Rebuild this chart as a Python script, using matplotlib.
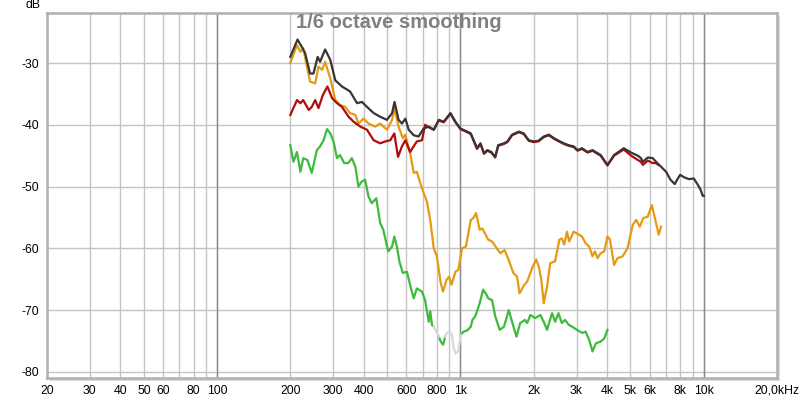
import numpy as np
import matplotlib
matplotlib.use("Agg")
import matplotlib.pyplot as plt
from matplotlib.patches import Rectangle

# ---------------- data ----------------
black_f = [200, 214, 223, 230, 241, 249, 259, 265, 278, 292, 306, 326, 352, 376, 394, 413, 440, 468, 499, 524,
           536, 557, 575, 594, 613, 643, 673, 706, 741, 777, 815, 854, 910, 954, 1000, 1066, 1103, 1170, 1209, 1250,
           1290, 1340, 1390, 1430, 1510, 1560, 1630, 1740, 1820, 1910, 2000, 2090, 2200, 2310, 2430, 2540, 2660, 2780,
           2920, 3030, 3160, 3330, 3490, 3660, 3770, 4020, 4280, 4690, 5030, 5360, 5520, 5620, 5890, 6170, 6370, 6680,
           7000, 7300, 7600, 7800, 8000, 8300, 8700, 9100, 9450, 9700, 9900, 10000]
black_db = [-29, -26.2, -27.4, -28.4, -31.7, -31.7, -29, -29.8, -27.8, -29.5, -32.8, -33.8, -34.6, -36.5, -36.3,
            -37.1, -38.1, -38.7, -39.2, -38.1, -36.3, -39.2, -39.8, -39, -40.8, -41.7, -41.9, -40.6, -40.3, -40.8,
            -39.2, -39.5, -38.1, -39.5, -40.6, -41.1, -41.4, -43.8, -43, -44.6, -44.1, -44.4, -45.2, -43.3, -43,
            -42.7, -41.6, -41.1, -41.4, -42.5, -42.7, -42.6, -41.9, -41.6, -42.2, -42.6, -43, -43.3, -43.5, -44.1,
            -43.8, -44.4, -44.1, -44.6, -44.9, -46.5, -44.9, -43.8, -44.5, -45, -45.4, -46, -45.3, -45.4, -46, -46.8,
            -47.6, -48.9, -49.6, -48.8, -48.1, -48.5, -48.8, -48.7, -49.7, -50.5, -51.5, -51.5]

red_f = [200, 213, 220, 226, 238, 245, 253, 261, 272, 284, 297, 311, 326, 347, 364, 388, 413, 440, 468, 491,
         515, 535, 554, 575, 594, 621, 662, 695, 716,
         741, 777, 815, 854, 910, 954, 1000, 1066, 1103, 1170, 1209, 1250, 1290, 1340, 1390, 1430, 1510, 1560,
         1630, 1740, 1820, 1910, 2000, 2090, 2200, 2310, 2430, 2540, 2660, 2780, 2920, 3030, 3160, 3330, 3490,
         3660, 3770, 4020, 4280, 4690, 5030, 5360, 5520, 5620, 5890, 6170, 6370, 6500]
red_db = [-38.4, -36, -36.5, -36, -37.6, -37.1, -36, -37.3, -35.2, -33.8, -35.7, -36.5, -37.1, -38.7, -39.5,
          -40.3, -40.8, -42.5, -43, -42.7, -42.5, -41.4, -45.2, -43.5, -42.5, -44.4, -42.7, -42.5, -40,
          -40.4, -40.8, -39.3, -39.6, -38.2, -39.6, -40.7, -41.2, -41.5, -43.9, -43.1, -44.7, -44.2, -44.5, -45.3,
          -43.4, -43.1, -42.8, -41.7, -41.2, -41.5, -42.6, -42.8, -42.7, -42, -41.7, -42.3, -42.7, -43.1, -43.4,
          -43.6, -44.2, -43.9, -44.5, -44.2, -44.7, -45, -46.6, -45, -44, -45, -45.7, -46, -46.5, -45.8, -46.2,
          -46.2, -46.5]

orange_f = [200, 213, 220, 226, 234, 241, 253, 261, 270, 278, 292, 306, 320, 336, 352, 370, 381, 400, 419, 446,
            468, 499, 524, 535, 557, 580, 594, 606, 621, 643, 662, 695, 729, 752, 777, 800, 830, 848, 877, 899,
            919, 954, 980, 1016, 1054, 1103, 1130, 1160, 1200, 1230, 1270, 1300, 1350, 1410, 1460, 1520, 1580,
            1650, 1710, 1750, 1830, 1880, 1980, 2050, 2100, 2150, 2200, 2270, 2340, 2450, 2550, 2610, 2670, 2740,
            2800, 2920, 3010, 3160, 3270, 3380, 3490, 3570, 3660, 3770, 3900, 4020, 4120, 4280, 4420, 4640, 4860,
            5110, 5280, 5460, 5640, 5880, 6120, 6320, 6530, 6680]
orange_db = [-30, -27.1, -28.2, -27.6, -30.6, -33, -33.3, -30.6, -31.1, -29.8, -32.5, -36, -36.8, -37.1, -38.1,
             -38.4, -39.8, -39, -39.8, -40.3, -39.8, -40.8, -39.2, -37.3, -40.3, -42.2, -41.6, -43, -44.5, -47.8,
             -47.6, -50.3, -52.5, -55.5, -60, -61.3, -65.6, -67, -65.1, -64.6, -65.9, -63.8, -63.5, -60, -59.7,
             -55.4, -55.1, -54.3, -57, -56.8, -57.8, -58.6, -58.9, -60, -60.8, -60.3, -61.9, -64, -64.6, -67.3,
             -65.9, -65.4, -63, -61.8, -63, -65.1, -68.9, -66.2, -62.4, -62.1, -58.6, -58.4, -59.4, -57.3, -58.9,
             -57.3, -57.6, -58.1, -59.2, -59.7, -61.3, -60.5, -61.6, -60.8, -60.5, -58.1, -58.6, -62.7, -61.6,
             -61.3, -60, -56.2, -55.4, -56.5, -55.1, -54.9, -53, -55.4, -57.8, -56.5]

green_f = [200, 206, 213, 220, 226, 235, 245, 257, 265, 274, 283, 292, 301, 311, 320, 333, 346, 358, 370, 381,
           393, 406, 419, 432, 451, 468, 482, 505, 524, 535, 548, 562, 580, 603, 621, 643, 662, 695, 716, 741,
           752, 764, 776, 802, 815, 830, 848, 860, 865, 880, 901, 923, 935, 954, 978, 991, 1004, 1030, 1066, 1103,
           1120, 1150, 1170, 1200, 1240, 1280, 1300, 1350, 1390, 1450, 1510, 1580, 1630, 1700, 1760, 1840, 1880,
           1940, 2030, 2130, 2200, 2270, 2380, 2450, 2530, 2610, 2690, 2790, 2880, 3010, 3160, 3270, 3380, 3490,
           3600, 3770, 3900, 4020]
green_db = [-43.3, -46, -44.4, -47.6, -45.4, -45.7, -47.8, -44.1, -43.5, -42.5, -40.7, -41.4, -42.7, -45.4, -44.9,
            -46.2, -46.2, -45.4, -46.8, -50, -49.2, -48.9, -51.6, -52.7, -51.9, -55.9, -57, -60.5, -59.7, -58.1,
            -59.7, -62.2, -64, -63.8, -65.9, -68.1, -66.5, -67, -68.4, -71.9, -70.2, -72.4, -72.7, -73.7, -74.3,
            -75.1, -75.6, -74.8, -74.3, -73.7, -73.5, -74, -75.9, -77, -76.7, -75.4, -74, -73.5, -73.3, -72.7,
            -71.6, -71, -70.2, -68.9, -66.7, -67.5, -68.1, -68.4, -71, -73.2, -72.7, -70, -71.9, -74.3, -72.1,
            -71.6, -72.1, -70.8, -71.3, -70.8, -71.9, -73.2, -70.5, -71.9, -70.5, -72.1, -71.6, -72.4, -72.7,
            -73.2, -73.7, -73.5, -74.8, -76.7, -75.4, -75.1, -74.6, -73.2]
# frequency spans where the green trace is drawn pale grey
pale_ranges = [(776, 815), (865, 1004)]

x_grid = [20, 30, 40, 50, 60, 70, 80, 90, 100, 200, 300, 400, 500, 600, 700, 800, 900, 1000,
          2000, 3000, 4000, 5000, 6000, 7000, 8000, 9000, 10000, 20000]
x_labels = ["20", "30", "40", "50", "60", "", "80", "", "100", "200", "300", "400", "", "600", "", "800", "",
            "1k", "2k", "3k", "4k", "5k", "6k", "", "8k", "", "10k", "20,0kHz"]
y_ticks = [-30, -40, -50, -60, -70, -80]
title = "1/6 octave smoothing"

# ---------------- drawing ----------------
plt.rcParams['font.family'] = ['Liberation Sans', 'DejaVu Sans']
fig = plt.figure(figsize=(8, 4), dpi=100)
fig.patch.set_facecolor('white')

L, B, W, H = 47 / 800, 22 / 400, 730 / 800, 365 / 400
# shadow behind the plot frame
fig.patches.append(Rectangle((L + 3 / 800, B - 3 / 400), W, H, transform=fig.transFigure,
                             facecolor='#dcdcdc', edgecolor='none', zorder=0))
ax = fig.add_axes([L, B, W, H], zorder=1)
ax.set_facecolor('white')
ax.set_xscale('log')
ax.set_xlim(20, 20000)
ax.set_ylim(-81, -21.9)

ax.set_xticks(x_grid)
ax.set_xticklabels(x_labels)
ax.xaxis.set_minor_locator(matplotlib.ticker.NullLocator())
ax.set_yticks(y_ticks)
ax.set_yticklabels([str(v) for v in y_ticks])
ax.tick_params(axis='both', length=0, labelsize=8.8, colors='black')
ax.tick_params(axis='x', pad=5)
ax.tick_params(axis='y', pad=6)
ax.grid(True, color='#c4c4c4', lw=1.0)
for d in (100, 1000, 10000):
    ax.axvline(d, color='#8a8a8a', lw=1.0, zorder=1.5)
for s in ax.spines.values():
    s.set_color('#b0b0b0')
    s.set_linewidth(1.8)
ax.set_axisbelow(True)

lw = 1.6
gf = np.array(green_f, dtype=float)
gd = np.array(green_db, dtype=float)
in_pale = np.zeros(len(gf), bool)
strict_pale = np.zeros(len(gf), bool)
for lo, hi in pale_ranges:
    in_pale |= (gf >= lo) & (gf <= hi)
    strict_pale |= (gf > lo) & (gf < hi)
ax.plot(gf, np.where(strict_pale, np.nan, gd), color='#3cbb3c', lw=lw, zorder=3)
ax.plot(gf, np.where(in_pale, gd, np.nan), color='#d8d8d8', lw=lw, zorder=3)
ax.plot(orange_f, orange_db, color='#e49a14', lw=lw, zorder=4)
ax.plot(red_f, red_db, color='#b00c0c', lw=lw, zorder=5)
ax.plot(black_f, black_db, color='#3a3434', lw=lw, zorder=6)

fig.text(399 / 800, 1 - 22 / 400, title, ha='center', va='center', fontsize=14.5,
         fontweight='bold', color='#808080', zorder=10)
fig.text(33 / 800, 1 - 5 / 400, "dB", ha='center', va='center', fontsize=8.8)

fig.savefig('out.png', dpi=100, facecolor='white')
